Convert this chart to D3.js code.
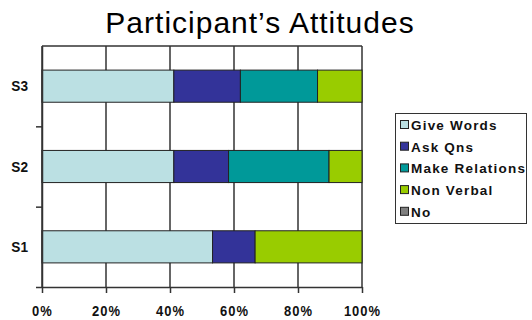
<!DOCTYPE html>
<html><head><meta charset="utf-8">
<script src="https://cdn.jsdelivr.net/npm/d3@7"></script>
<style>body{margin:0;background:#fff}svg{display:block}</style>
</head><body>
<script>
const categories = ["S3", "S2", "S1"];
const seriesNames = ["Give Words", "Ask Qns", "Make Relations", "Non Verbal", "No"];
const giveWords = [41.2, 41.2, 53.3];
const askQns = [20.8, 17.1, 13.3];
const makeRelations = [24.1, 31.4, 0];
const nonVerbal = [13.9, 10.3, 33.4];
const no = [0, 0, 0];
const colors = ["#BBE0E3", "#333399", "#009999", "#99CC00", "#808080"];
const xTicks = [0, 0.2, 0.4, 0.6, 0.8, 1];

const W = 532, H = 320;
const m = {l: 42, r: 170, t: 46, b: 33};
const svg = d3.select("body").append("svg").attr("width", W).attr("height", H);

const rows = categories.map((c, i) => ({cat: c, "Give Words": giveWords[i], "Ask Qns": askQns[i],
  "Make Relations": makeRelations[i], "Non Verbal": nonVerbal[i], "No": no[i]}));
rows.forEach(r => { const t = d3.sum(seriesNames, k => r[k]); seriesNames.forEach(k => r[k] = r[k] / t); });

const x = d3.scaleLinear().domain([0, 1]).range([m.l, W - m.r]);
const y = d3.scaleBand().domain(categories).range([m.t, H - m.b]).paddingInner(0.6).paddingOuter(0.3);
const color = d3.scaleOrdinal().domain(seriesNames).range(colors);

// Title
svg.append("text").attr("x", 260).attr("y", 33).attr("text-anchor", "middle")
  .attr("font-family", "Liberation Sans, Arial, sans-serif").attr("font-size", 30)
  .attr("letter-spacing", 1).attr("fill", "#000").text("Participant\u2019s Attitudes");

// vertical gridlines
svg.append("g").selectAll("line").data(xTicks).join("line")
  .attr("x1", d => x(d)).attr("x2", d => x(d)).attr("y1", m.t).attr("y2", H - m.b)
  .attr("stroke", "#333").attr("stroke-width", 1.5);
// top border
svg.append("line").attr("x1", m.l).attr("x2", x(1)).attr("y1", m.t).attr("y2", m.t)
  .attr("stroke", "#333").attr("stroke-width", 1.5);

// bars
const stack = d3.stack().keys(seriesNames)(rows);
svg.append("g").selectAll("g").data(stack).join("g").attr("fill", d => color(d.key))
  .selectAll("rect").data(d => d).join("rect")
  .attr("x", d => x(d[0])).attr("width", d => x(d[1]) - x(d[0]))
  .attr("y", d => y(d.data.cat)).attr("height", y.bandwidth())
  .attr("stroke", d => (d[1] - d[0]) > 0 ? "#222" : "none").attr("stroke-width", 1);

// x axis
const xAxis = svg.append("g").attr("transform", `translate(0,${H - m.b})`)
  .call(d3.axisBottom(x).tickValues(xTicks).tickSize(6).tickFormat(d3.format(".0%")).tickSizeOuter(0));
xAxis.select(".domain").attr("stroke", "#333").attr("stroke-width", 1.5);
xAxis.selectAll(".tick line").attr("stroke", "#333").attr("stroke-width", 1.5);
xAxis.selectAll(".tick text").attr("y", 0).attr("dy", null)
  .attr("transform", "translate(0,29) scale(1,1.15)")
  .attr("font-family", "Liberation Sans, Arial, sans-serif").attr("font-weight", "bold")
  .attr("font-size", 13).attr("letter-spacing", 1).attr("fill", "#111");

// y axis
const step = y.step();
const bounds = d3.range(categories.length + 1).map(i => m.t + i * step);
const yLin = d3.scaleLinear().domain([0, categories.length]).range([m.t, H - m.b]);
const yAxis = svg.append("g").attr("transform", `translate(${m.l},0)`)
  .call(d3.axisLeft(yLin).tickValues(d3.range(1, categories.length + 1)).tickSize(6).tickSizeOuter(0).tickFormat(""));
yAxis.select(".domain").attr("stroke", "#333").attr("stroke-width", 1.5);
yAxis.selectAll(".tick line").attr("stroke", "#333").attr("stroke-width", 1.5);

svg.append("g").selectAll("text").data(categories).join("text")
  .attr("text-anchor", "end")
  .attr("transform", d => `translate(28,${y(d) + y.bandwidth() / 2 + 5}) scale(1.05,1.15)`)
  .attr("font-family", "Liberation Sans, Arial, sans-serif").attr("font-weight", "bold")
  .attr("font-size", 13).attr("fill", "#111").text(d => d);

// legend
const lg = svg.append("g");
lg.append("rect").attr("x", 395.5).attr("y", 113.5).attr("width", 131).attr("height", 110)
  .attr("fill", "#fff").attr("stroke", "#333").attr("stroke-width", 1);
const items = lg.selectAll("g.item").data(seriesNames).join("g").attr("class", "item")
  .attr("transform", (d, i) => `translate(400,${125 + i * 21.7})`);
items.append("rect").attr("x", 0.5).attr("y", -4.5).attr("width", 8).attr("height", 8)
  .attr("fill", d => color(d)).attr("stroke", "#222").attr("stroke-width", 1);
items.append("text").attr("x", 11).attr("y", 5)
  .attr("font-family", "Liberation Sans, Arial, sans-serif").attr("font-weight", "bold")
  .attr("font-size", 13.5).attr("letter-spacing", 1.2).attr("fill", "#111").text(d => d);
</script>
</body></html>
